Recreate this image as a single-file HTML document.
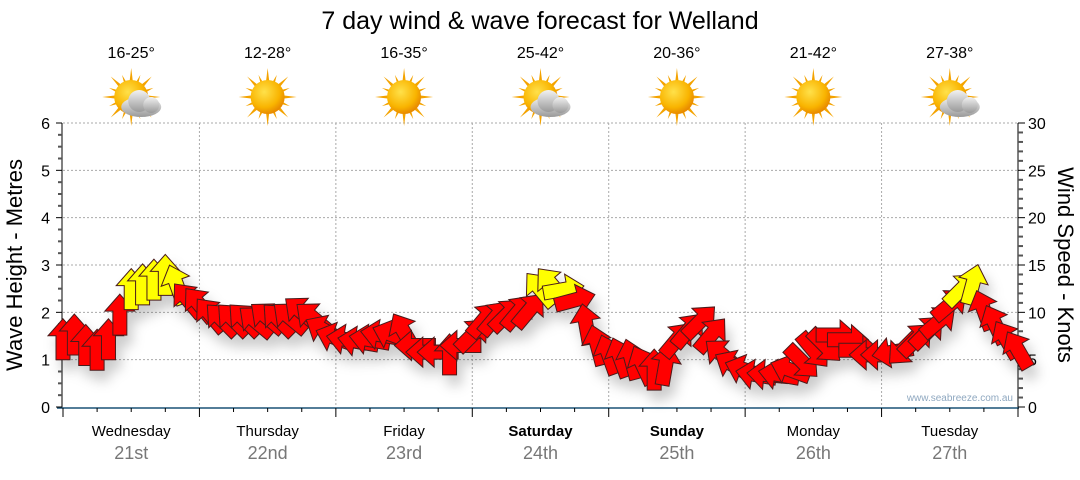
<!DOCTYPE html>
<html><head><meta charset="utf-8"><style>
body{margin:0;background:#fff;width:1080px;height:475px;overflow:hidden;font-family:"Liberation Sans",sans-serif}
svg text{font-family:"Liberation Sans",sans-serif}
</style></head><body>
<svg id="chart" width="1080" height="475" viewBox="0 0 1080 475" xmlns="http://www.w3.org/2000/svg">
<defs>
<filter id="sh" x="-50%" y="-50%" width="200%" height="200%"><feDropShadow dx="5" dy="10" stdDeviation="6" flood-color="#000" flood-opacity="0.2"/></filter>
<radialGradient id="sun" cx="40%" cy="35%" r="65%"><stop offset="0" stop-color="#ffe14a"/><stop offset="0.7" stop-color="#f9b400"/><stop offset="1" stop-color="#e88a00"/></radialGradient>
<linearGradient id="cloud" x1="0" y1="0" x2="0" y2="1"><stop offset="0" stop-color="#f2f2f2"/><stop offset="1" stop-color="#9a9a9a"/></linearGradient>
</defs>
<text x="540" y="29" text-anchor="middle" font-size="25" fill="#000">7 day wind &amp; wave forecast for Welland</text>
<g id="gridG"></g>
<g id="axesG"></g>
<g id="marksG" filter="url(#sh)"></g>
<g id="topG"></g>
<text transform="translate(22,265) rotate(-90)" text-anchor="middle" font-size="22">Wave Height - Metres</text>
<text transform="translate(1058,265) rotate(90)" text-anchor="middle" font-size="22">Wind Speed - Knots</text>
<text x="1013" y="401" text-anchor="end" font-size="10" fill="#8fa8c0">www.seabreeze.com.au</text>
</svg>
<script>
const days=["Wednesday","Thursday","Friday","Saturday","Sunday","Monday","Tuesday"];
const dates=["21st","22nd","23rd","24th","25th","26th","27th"];
const temps=["16-25°","12-28°","16-35°","25-42°","20-36°","21-42°","27-38°"];
const cloudy=[1,0,0,1,0,0,1];
const waveTicks=[0,1,2,3,4,5,6];
const windTicks=[0,5,10,15,20,25,30];
const windSpeed=[7.1,7.6,6.5,6.0,7.1,9.7,12.4,12.9,13.4,13.9,
12.9,11.3,10.8,9.7,9.2,9.2,9.2,9.0,9.4,9.2,
9.4,10.0,9.4,8.1,7.3,7.1,6.9,7.1,7.6,7.6,
7.9,6.5,5.8,5.8,5.5,6.5,7.6,9.2,9.4,9.7,
10.0,10.2,12.4,12.9,12.4,11.3,8.7,6.5,5.5,5.2,
5.0,4.4,3.9,4.4,7.1,8.1,9.0,7.6,5.5,4.4,
3.9,3.4,3.4,3.4,3.9,4.8,6.0,6.5,7.6,7.1,
6.0,5.5,5.5,5.8,6.2,7.1,7.9,9.0,10.8,12.4,
12.9,10.2,8.7,7.1,6.0];
const windDir=[0,0,0,0,0,0,0,0,0,0,-20,
-40,-40,-40,-45,-45,-45,-50,-50,-45,-50,
-50,-50,-60,-70,-80,-80,-80,-80,-70,-30,
-90,-90,-90,0,-90,45,40,40,45,40,
40,-40,-40,80,75,-10,-15,-20,-20,-15,
-25,0,10,40,40,45,40,-50,-60,-70,
-80,-85,-80,-70,135,140,135,90,90,90,
-90,-90,-100,-135,45,45,50,50,45,15,
-20,-25,-30,-30];
const NS="http://www.w3.org/2000/svg";
const X0=63,X1=1018,Y0=407,Y1=123;
const xScale=h=>X0+h/168*(X1-X0);
const yWave=m=>Y0-m/6*(Y0-Y1);
const yWind=k=>Y0-k/30*(Y0-Y1);
function mk(tag,attrs,parent){const e=document.createElementNS(NS,tag);for(const k in attrs)e.setAttribute(k,attrs[k]);parent.appendChild(e);return e;}
const gridG=document.getElementById('gridG'),axesG=document.getElementById('axesG'),marksG=document.getElementById('marksG'),topG=document.getElementById('topG');
waveTicks.forEach(m=>{if(m===0)return;const l=mk('line',{x1:X0,x2:X1,y1:yWave(m),y2:yWave(m),stroke:'#aaa','stroke-dasharray':'2,2'},gridG);

});
for(let d=1;d<7;d++){const l=mk('line',{x1:xScale(d*24),x2:xScale(d*24),y1:Y1,y2:Y0,stroke:'#aaa','stroke-dasharray':'2,2'},gridG);

}
mk('line',{x1:X0-1,x2:X0-1,y1:Y1,y2:Y0+1,stroke:'#000'},axesG);
mk('line',{x1:X1,x2:X1,y1:Y1,y2:Y0+1,stroke:'#000'},axesG);
mk('line',{x1:X0-6,x2:X1+1,y1:Y0+1,y2:Y0+1,stroke:'#1a5276','stroke-width':1.5},axesG);
for(let q=0;q<=24;q++){const y=yWave(q/4);const major=q%4===0;mk('line',{x1:X0-(major?7:5),x2:X0-1,y1:y,y2:y,stroke:major?'#000':'#555','stroke-width':major?1:2},axesG);}
for(let k=0;k<=30;k++){const y=yWind(k);const major=k%5===0;mk('line',{x1:X1,x2:X1+(major?7:5),y1:y,y2:y,stroke:major?'#000':'#555','stroke-width':major?1:2},axesG);}
waveTicks.forEach(m=>{const t=mk('text',{x:X0-13,y:yWave(m)+6,'text-anchor':'end','font-size':16},axesG);t.textContent=m;

});
windTicks.forEach(k=>{const t=mk('text',{x:X1+10,y:yWind(k)+6,'font-size':16},axesG);t.textContent=k;

});
for(let h=0;h<=168;h+=6){const x=xScale(h);mk('line',{x1:x,x2:x,y1:Y0+1,y2:Y0+(h%24===0?10:5),stroke:'#000'},axesG);}
days.forEach((d,i)=>{const cx=xScale(i*24+12);const wk=(i===3||i===4);
const t=mk('text',{x:cx,y:436,'text-anchor':'middle','font-size':15,'font-weight':wk?'bold':'normal'},axesG);t.textContent=d;


const t2=mk('text',{x:cx,y:459,'text-anchor':'middle','font-size':18,fill:'#777'},axesG);t2.textContent=dates[i];


const t3=mk('text',{x:cx,y:58,'text-anchor':'middle','font-size':16},topG);t3.textContent=temps[i];


const g=mk('g',{transform:`translate(${cx},97)`},topG);


for(let r=0;r<16;r++){const a=r*22.5;const L=r%2?24:29;mk('polygon',{points:`-3.5,0 3.5,0 0,-${L}`,fill:'#f4a300',transform:`rotate(${a})`},g);}
mk('circle',{r:17,fill:'url(#sun)'},g);
if(cloudy[i]){const c=mk('g',{transform:'translate(10,6)'},g);mk('ellipse',{cx:0,cy:4,rx:20,ry:10,fill:'url(#cloud)'},c);mk('circle',{cx:-2,cy:-2,r:11,fill:'url(#cloud)'},c);mk('circle',{cx:10,cy:2,r:8,fill:'url(#cloud)'},c);}
});
const shape="0,-21 15,-4 7,-4 7,20 -7,20 -7,-4 -15,-4";
windSpeed.forEach((k,i)=>{const x=xScale(i*2),y=yWind(k);
const p=mk('polygon',{points:shape,fill:k>=12?'#ffff00':'#ff0000',stroke:'#4a1a1a','stroke-width':1,transform:`translate(${x},${y}) rotate(${windDir[i]})`},marksG);

});
</script>
</body></html>
